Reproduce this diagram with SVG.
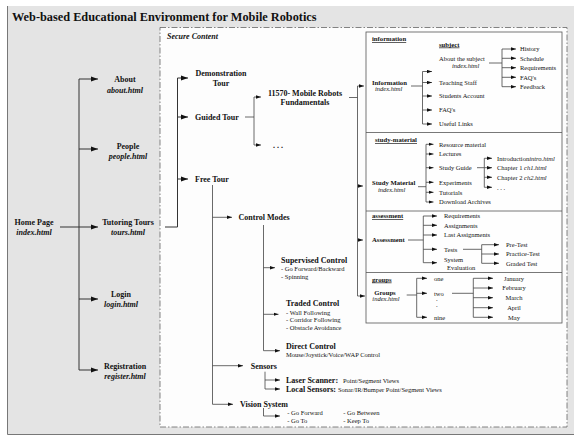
<svg xmlns="http://www.w3.org/2000/svg" width="574" height="436" viewBox="0 0 574 436">
<style>
text{font-family:"Liberation Serif","Times New Roman",serif;fill:#111}
.t{font-size:12.3px;font-weight:bold}
.b{font-size:8px;font-weight:bold}
.bi{font-size:8px;font-weight:bold;font-style:italic}
.m{text-anchor:middle}
.s{font-size:6.5px}
.sb{font-size:6.7px;font-weight:bold}
.si{font-size:6.5px;font-style:italic}
.u{text-decoration:underline}
.ln{fill:none;stroke:#333;stroke-width:1}
.lt{fill:none;stroke:#444;stroke-width:0.8}
.A{marker-end:url(#ah)}
.S{marker-end:url(#as)}
</style>
<defs>
<marker id="ah" markerUnits="userSpaceOnUse" viewBox="0 0 7 6" markerWidth="7" markerHeight="6" refX="7" refY="3" orient="auto"><path d="M0,0.4 L7,3 L0,5.6 Z" fill="#111"/></marker>
<marker id="as" markerUnits="userSpaceOnUse" viewBox="0 0 5 4" markerWidth="5" markerHeight="4" refX="5" refY="2" orient="auto"><path d="M0,0.3 L5,2 L0,3.7 Z" fill="#111"/></marker>
</defs>
<rect x="0" y="0" width="574" height="436" fill="#ffffff"/>
<rect x="7" y="6" width="567" height="428" fill="#e4e4e4"/>
<path d="M7.5,6 V434.5 H574" fill="none" stroke="#777" stroke-width="1"/>
<text class="t" x="12" y="21">Web-based Educational Environment for Mobile Robotics</text>
<rect x="160" y="27.5" width="407" height="399.5" fill="#fdfdfd" stroke="#666" stroke-width="0.8" stroke-dasharray="6,2,1.5,2"/>
<text class="bi" x="167" y="38.5">Secure Content</text>

<g id="course-box"><rect x="366" y="32" width="196" height="291" fill="#fefefe" stroke="#555" stroke-width="0.8"/>
<path d="M366,132.5 H562 M366,211 H562 M366,272.5 H562" stroke="#555" stroke-width="0.8"/></g>

<g id="connectors">
<path class="ln A" d="M60,227 H98"/>
<path class="ln" d="M79,79 V370"/>
<path class="ln A" d="M79,79 H98"/>
<path class="ln A" d="M79,149 H98"/>
<path class="ln A" d="M79,299 H98"/>
<path class="ln A" d="M79,370 H98"/>
<path class="ln" d="M165,227 H177.5 V78"/>
<path class="ln A" d="M177.5,78 H188"/>
<path class="ln A" d="M177.5,117 H188"/>
<path class="ln A" d="M177.5,179 H188"/>
<path class="lt" d="M245,117 H254 M254,97 V145"/>
<path class="lt S" d="M254,97 H261"/>
<path class="lt S" d="M254,145 H261"/>
<path class="lt" d="M349,97.5 H357.5 M357.5,86 V296"/>
<path class="lt S" d="M357.5,86 H364"/>
<path class="lt S" d="M357.5,186 H363"/>
<path class="lt S" d="M357.5,240 H363"/>
<path class="lt S" d="M357.5,296 H365"/>
<path class="lt" d="M411,86 H422.5 M422.5,71.5 V124"/>
<path class="lt S" d="M422.5,71.5 H432"/>
<path class="lt S" d="M422.5,82.5 H432"/>
<path class="lt S" d="M422.5,96 H432"/>
<path class="lt S" d="M422.5,110 H432"/>
<path class="lt S" d="M422.5,124 H432"/>
<path class="lt" d="M489,63 H502 M502,49 V86.7"/>
<path class="lt S" d="M502,49 H516"/>
<path class="lt S" d="M502,58.3 H516"/>
<path class="lt S" d="M502,67.7 H516"/>
<path class="lt S" d="M502,77.3 H516"/>
<path class="lt S" d="M502,86.7 H516"/>
<path class="lt" d="M418,186.7 H426 M426,144.3 V202"/>
<path class="lt S" d="M426,144.3 H433.5"/>
<path class="lt S" d="M426,154 H433.5"/>
<path class="lt S" d="M426,167.7 H433.5"/>
<path class="lt S" d="M426,182.3 H433.5"/>
<path class="lt S" d="M426,192.3 H433.5"/>
<path class="lt S" d="M426,202 H433.5"/>
<path class="lt" d="M477,167.7 H484.3 M484.3,158.3 V187.3"/>
<path class="lt S" d="M484.3,158.3 H492"/>
<path class="lt S" d="M484.3,167.7 H492"/>
<path class="lt S" d="M484.3,177.3 H492"/>
<path class="lt S" d="M484.3,187.3 H492"/>
<path class="lt" d="M408,240 H423.3 M423.3,216 V262.7"/>
<path class="lt S" d="M423.3,216 H437"/>
<path class="lt S" d="M423.3,225.3 H437"/>
<path class="lt S" d="M423.3,235 H437"/>
<path class="lt S" d="M423.3,249.3 H437"/>
<path class="lt S" d="M423.3,262.7 H437"/>
<path class="lt" d="M463,249.3 H481.7 M481.7,244.7 V263.3"/>
<path class="lt S" d="M481.7,244.7 H499"/>
<path class="lt S" d="M481.7,254 H499"/>
<path class="lt S" d="M481.7,263.3 H499"/>
<path class="lt" d="M406.7,295 H416.7 M416.7,278.3 V317.3"/>
<path class="lt S" d="M416.7,278.3 H427"/>
<path class="lt S" d="M416.7,293.3 H427"/>
<path class="lt S" d="M416.7,317.3 H427"/>
<path class="lt" d="M452,293.3 H473.3 M473.3,278.3 V317.3"/>
<path class="lt S" d="M473.3,278.3 H493"/>
<path class="lt S" d="M473.3,288 H493"/>
<path class="lt S" d="M473.3,297.7 H493"/>
<path class="lt S" d="M473.3,307.7 H493"/>
<path class="lt S" d="M473.3,317.3 H493"/>
<path class="lt" d="M212.5,185 V404.3"/>
<path class="lt S" d="M212.5,217.3 H232"/>
<path class="lt S" d="M212.5,365.7 H243"/>
<path class="lt S" d="M212.5,404.3 H233"/>
<path class="lt" d="M263.5,225 V350.7"/>
<path class="lt S" d="M263.5,267.7 H275"/>
<path class="lt S" d="M263.5,314.3 H278.5"/>
<path class="lt S" d="M263.5,350.7 H280"/>
<path class="lt S" d="M265,371.7 V389 H280"/>
<path class="lt S" d="M265,380 H280"/>
<path class="lt S" d="M263.5,408 V416 H280"/>
</g>

<g id="home"><text class="b m" x="34" y="224.7">Home Page</text><text class="bi m" x="34" y="234.7">index.html</text></g>
<g id="about"><text class="b m" x="125" y="82.3">About</text><text class="bi m" x="125" y="93">about.html</text></g>
<g id="people"><text class="b m" x="128" y="149">People</text><text class="bi m" x="128" y="159">people.html</text></g>
<g id="tours"><text class="b m" x="128" y="224.7">Tutoring Tours</text><text class="bi m" x="128" y="234.7">tours.html</text></g>
<g id="login"><text class="b m" x="121" y="297">Login</text><text class="bi m" x="121" y="307">login.html</text></g>
<g id="registration"><text class="b m" x="125" y="368.7">Registration</text><text class="bi m" x="125" y="378.7">register.html</text></g>

<g id="demo"><text class="b m" x="221" y="76">Demonstration</text><text class="b m" x="221" y="86">Tour</text></g>
<g id="guided"><text class="b" x="195" y="120">Guided Tour</text></g>
<g id="free"><text class="b" x="195" y="182">Free Tour</text></g>
<g id="course"><text class="b m" x="305" y="95.5">11570- Mobile Robots</text><text class="b m" x="305" y="105">Fundamentals</text></g>
<g id="more"><text class="b" x="273" y="148">. . .</text></g>

<g id="information">
<text class="sb u" x="372" y="41">information</text>
<text class="sb" x="372" y="84.5">Information</text><text class="si" x="375" y="91">index.html</text>
<text class="sb u" x="439" y="46.5">subject</text>
<text class="s" x="439" y="60.5">About the subject</text><text class="si" x="452" y="68">index.html</text>
<text class="s" x="439" y="84.7">Teaching Staff</text>
<text class="s" x="439" y="98.2">Students Account</text>
<text class="s" x="439" y="112.2">FAQ's</text>
<text class="s" x="439" y="126.2">Useful Links</text>
<text class="s" x="520" y="51.2">History</text>
<text class="s" x="520" y="60.5">Schedule</text>
<text class="s" x="520" y="70">Requirements</text>
<text class="s" x="520" y="79.5">FAQ's</text>
<text class="s" x="520" y="89">Feedback</text>
</g>
<g id="study">
<text class="sb u" x="375" y="142.2">study-material</text>
<text class="sb" x="372" y="184.5">Study Material</text><text class="si" x="378" y="192.2">index.html</text>
<text class="s" x="439" y="146.5">Resource material</text>
<text class="s" x="439" y="156.2">Lectures</text>
<text class="s" x="439" y="169.9">Study Guide</text>
<text class="s" x="439" y="184.5">Experiments</text>
<text class="s" x="439" y="194.5">Tutorials</text>
<text class="s" x="439" y="204.2">Download Archives</text>
<text class="s" x="497" y="160.5">Introduction<tspan font-style="italic">intro.html</tspan></text>
<text class="s" x="497" y="169.9">Chapter 1 <tspan font-style="italic">ch1.html</tspan></text>
<text class="s" x="497" y="179.5">Chapter 2 <tspan font-style="italic">ch2.html</tspan></text>
<text class="s" x="497" y="189.5">. . .</text>
</g>
<g id="assessment">
<text class="sb u" x="372" y="218.2">assessment</text>
<text class="sb" x="372" y="242.2">Assessment</text>
<text class="s" x="444" y="218.2">Requirements</text>
<text class="s" x="444" y="227.5">Assignments</text>
<text class="s" x="444" y="237.2">Last Assignments</text>
<text class="s" x="444" y="251.5">Tests</text>
<text class="s" x="444" y="261.5">System</text>
<text class="s" x="447" y="269.5">Evaluation</text>
<text class="s" x="506" y="246.9">Pre-Test</text>
<text class="s" x="506" y="256.2">Practice-Test</text>
<text class="s" x="506" y="265.5">Graded Test</text>
</g>
<g id="groups">
<text class="sb u" x="372" y="281.5">groups</text>
<text class="sb m" x="385" y="294.5">Groups</text><text class="si m" x="386" y="301.2">index.html</text>
<text class="s" x="434" y="280.5">one</text>
<text class="s" x="434" y="295.5">two</text>
<text class="s" x="436" y="301">.</text>
<text class="s" x="436" y="307">.</text>
<text class="s" x="434" y="319.5">nine</text>
<text class="s m" x="514" y="280.5">January</text>
<text class="s m" x="514" y="290.2">February</text>
<text class="s m" x="514" y="299.9">March</text>
<text class="s m" x="514" y="309.9">April</text>
<text class="s m" x="514" y="319.5">May</text>
</g>

<g id="control-modes"><text class="b" x="238.5" y="220">Control Modes</text></g>
<g id="supervised"><text class="b" x="281" y="263">Supervised Control</text><text class="s" x="281" y="270.5">- Go Forward/Backward</text><text class="s" x="281" y="279">- Spinning</text></g>
<g id="traded"><text class="b" x="286" y="306">Traded Control</text><text class="s" x="286" y="314.5">- Wall Following</text><text class="s" x="286" y="322.2">- Corridor Following</text><text class="s" x="286" y="330">- Obstacle Avoidance</text></g>
<g id="direct"><text class="b" x="286" y="349">Direct Control</text><text class="s" x="286" y="357.2">Mouse/Joystick/Voice/WAP Control</text></g>
<g id="sensors"><text class="b" x="250.7" y="368.5">Sensors</text></g>
<g id="laser"><text class="b" x="286" y="383">Laser Scanner:</text><text class="s" x="343" y="383">Point/Segment Views</text></g>
<g id="local"><text class="b" x="286" y="392">Local Sensors:</text><text class="s" x="338" y="392">Sonar/IR/Bumper  Point/Segment Views</text></g>
<g id="vision"><text class="b" x="240" y="407">Vision System</text>
<text class="s" x="287.3" y="414.5">- Go Forward</text><text class="s" x="287.3" y="423">- Go To</text>
<text class="s" x="343.3" y="414.5">- Go Between</text><text class="s" x="343.3" y="423">- Keep To</text></g>
</svg>
